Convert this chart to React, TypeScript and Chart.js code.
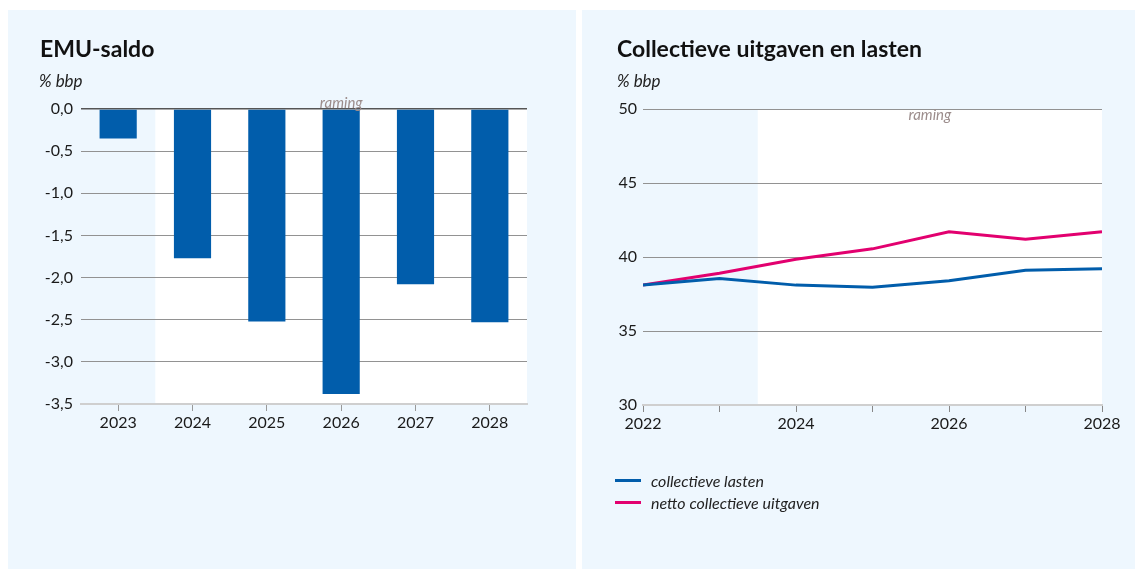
import React, { useEffect, useRef } from "react";
import { Chart, registerables } from "chart.js";

Chart.register(...registerables);

// ---------- data ----------
const emuYears = ["2023", "2024", "2025", "2026", "2027", "2028"];
const emuSaldo = [-0.35, -1.77, -2.52, -3.38, -2.08, -2.53];
const emuForecastStart = 0.5; // category index where "raming" begins

const lineYears = [2022, 2023, 2024, 2025, 2026, 2027, 2028];
const collectieveLasten = [38.1, 38.55, 38.1, 37.95, 38.4, 39.1, 39.2];
const nettoCollectieveUitgaven = [38.1, 38.9, 39.85, 40.55, 41.7, 41.2, 41.7];
const lineForecastStart = 2023.5;
const lineXLabels = [2022, 2024, 2026, 2028];

const titleLeft = "EMU-saldo";
const titleRight = "Collectieve uitgaven en lasten";
const unitLabel = "% bbp";
const ramingLabel = "raming";
const legendLabels = ["collectieve lasten", "netto collectieve uitgaven"];

// ---------- style ----------
const BLUE = "#015DAB";
const PINK = "#E2006F";
const PANEL_BG = "#EEF7FE";
const FONT = "Lato, 'Open Sans', sans-serif";
const TICK_COLOR = "#1a1a1a";
const GRID = "#929292";

const forecastPlugin = (startValue: number, textOffsetY: number) => ({
  id: "forecast",
  beforeDraw(chart: any) {
    const { ctx, chartArea } = chart;
    const x0 = chart.scales.x.getPixelForValue(startValue);
    ctx.save();
    ctx.fillStyle = "#ffffff";
    ctx.fillRect(x0, chartArea.top, chartArea.right - x0, chartArea.bottom - chartArea.top);
    ctx.restore();
  },
  afterDraw(chart: any) {
    const { ctx, chartArea } = chart;
    const x0 = chart.scales.x.getPixelForValue(startValue);
    ctx.save();
    ctx.font = `italic 15px ${FONT}`;
    ctx.fillStyle = "#9C8D8C";
    ctx.textAlign = "center";
    ctx.textBaseline = "middle";
    ctx.fillText(ramingLabel, (x0 + chartArea.right) / 2, chartArea.top + textOffsetY);
    ctx.restore();
  },
});

function useChart(ref: React.RefObject<HTMLCanvasElement>, makeConfig: () => any) {
  useEffect(() => {
    if (!ref.current) return;
    const chart = new Chart(ref.current, makeConfig());
    return () => chart.destroy();
  }, []);
}

function EmuChart() {
  const ref = useRef<HTMLCanvasElement>(null);
  useChart(ref, () => ({
    type: "bar",
    data: {
      labels: emuYears,
      datasets: [
        {
          label: titleLeft,
          data: emuSaldo,
          backgroundColor: BLUE,
          borderWidth: 0,
          barPercentage: 0.5,
          categoryPercentage: 1,
        },
      ],
    },
    options: {
      animation: false,
      responsive: false,
      devicePixelRatio: 1,
      layout: { padding: { top: 99, right: 49, left: 0, bottom: 0 } },
      plugins: { legend: { display: false }, tooltip: { enabled: false } },
      scales: {
        x: {
          offset: true,
          afterFit: (s: any) => {
            s.height = 165;
          },
          grid: {
            offset: false,
            drawOnChartArea: false,
            drawTicks: true,
            tickLength: 7,
            tickColor: "#999",
          },
          border: { display: true, color: "#cfcfcf", width: 2 },
          ticks: { color: TICK_COLOR, font: { family: FONT, size: 16 }, padding: 2, maxRotation: 0 },
        },
        y: {
          min: -3.5,
          max: 0,
          afterFit: (s: any) => {
            s.width = 73;
          },
          grid: {
            drawTicks: false,
            lineWidth: (c: any) => (c.tick && c.tick.value === 0 ? 1.5 : 1),
            color: (c: any) =>
              c.tick && c.tick.value === 0 ? "#555" : c.tick && c.tick.value === -3.5 ? "rgba(0,0,0,0)" : GRID,
          },
          border: { display: false },
          ticks: {
            stepSize: 0.5,
            padding: 8,
            color: TICK_COLOR,
            font: { family: FONT, size: 16 },
            callback: (v: any) => Number(v).toFixed(1).replace(".", ","),
          },
        },
      },
    },
    plugins: [forecastPlugin(emuForecastStart, -6)],
  }));
  return <canvas ref={ref} width={568} height={559} style={{ position: "absolute", left: 0, top: 0 }} />;
}

function LineChart() {
  const ref = useRef<HTMLCanvasElement>(null);
  useChart(ref, () => ({
    type: "line",
    data: {
      datasets: [
        {
          label: legendLabels[0],
          data: lineYears.map((y, i) => ({ x: y, y: collectieveLasten[i] })),
          borderColor: BLUE,
          borderWidth: 3,
          pointRadius: 0,
          tension: 0,
        },
        {
          label: legendLabels[1],
          data: lineYears.map((y, i) => ({ x: y, y: nettoCollectieveUitgaven[i] })),
          borderColor: PINK,
          borderWidth: 3,
          pointRadius: 0,
          tension: 0,
        },
      ],
    },
    options: {
      animation: false,
      responsive: false,
      devicePixelRatio: 1,
      layout: { padding: { top: 99, right: 33, left: 0, bottom: 0 } },
      plugins: { legend: { display: false }, tooltip: { enabled: false } },
      scales: {
        x: {
          type: "linear",
          min: lineYears[0],
          max: lineYears[lineYears.length - 1],
          afterFit: (s: any) => {
            s.height = 164;
          },
          grid: {
            drawOnChartArea: false,
            drawTicks: true,
            tickLength: 7,
            tickColor: "#888",
          },
          border: { display: true, color: "#cfcfcf", width: 2 },
          ticks: {
            stepSize: 1,
            autoSkip: false,
            maxRotation: 0,
            padding: 2,
            color: TICK_COLOR,
            font: { family: FONT, size: 16 },
            callback: (v: any) => (lineXLabels.includes(Number(v)) ? String(v) : ""),
          },
        },
        y: {
          min: 30,
          max: 50,
          afterFit: (s: any) => {
            s.width = 61;
          },
          grid: {
            drawTicks: false,
            color: (c: any) => (c.tick && c.tick.value === 30 ? "rgba(0,0,0,0)" : GRID),
          },
          border: { display: false },
          ticks: {
            stepSize: 5,
            padding: 6,
            color: TICK_COLOR,
            font: { family: FONT, size: 16 },
          },
        },
      },
    },
    plugins: [forecastPlugin(lineForecastStart, 6)],
  }));
  return <canvas ref={ref} width={553} height={559} style={{ position: "absolute", left: 0, top: 0 }} />;
}

const titleStyle: React.CSSProperties = {
  position: "absolute",
  fontFamily: FONT,
  fontWeight: 700,
  fontSize: 23,
  color: "#111",
  whiteSpace: "nowrap",
  lineHeight: "28px",
};
const unitStyle: React.CSSProperties = {
  position: "absolute",
  fontFamily: FONT,
  fontStyle: "italic",
  fontSize: 17,
  color: "#222",
  whiteSpace: "nowrap",
  lineHeight: "20px",
};

export default function App() {
  return (
    <div style={{ position: "absolute", left: 0, top: 0, width: 1135, height: 569, overflow: "hidden" }}>
      <div style={{ position: "absolute", left: 8, top: 10, width: 568, height: 559, background: PANEL_BG }}>
        <EmuChart />
        <div style={{ ...titleStyle, left: 32, top: 24 }}>{titleLeft}</div>
        <div style={{ ...unitStyle, left: 31, top: 61 }}>{unitLabel}</div>
      </div>
      <div style={{ position: "absolute", left: 582, top: 10, width: 553, height: 559, background: PANEL_BG }}>
        <LineChart />
        <div style={{ ...titleStyle, left: 35, top: 24 }}>{titleRight}</div>
        <div style={{ ...unitStyle, left: 35, top: 61 }}>{unitLabel}</div>
        {legendLabels.map((lab, i) => (
          <div key={lab} style={{ position: "absolute", left: 33, top: 459 + i * 22, height: 22, display: "flex", alignItems: "center" }}>
            <div style={{ width: 26, height: 3, background: i === 0 ? BLUE : PINK, marginRight: 10 }} />
            <span style={{ fontFamily: FONT, fontStyle: "italic", fontSize: 16, color: "#222", whiteSpace: "nowrap" }}>{lab}</span>
          </div>
        ))}
      </div>
    </div>
  );
}
